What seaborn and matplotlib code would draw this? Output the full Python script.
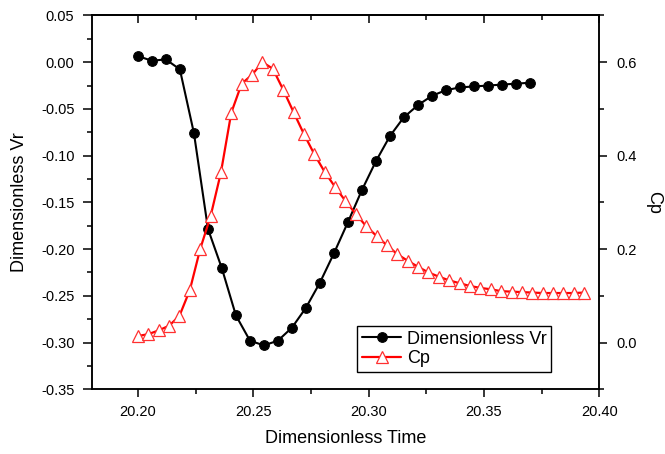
import matplotlib
matplotlib.use("Agg")
import matplotlib.pyplot as plt
from matplotlib.ticker import MultipleLocator, FormatStrFormatter
import seaborn as sns
import pandas as pd

# ---- data ----
vr_time = [20.2000, 20.2061, 20.2121, 20.2182, 20.2243, 20.2304, 20.2364, 20.2425,
           20.2486, 20.2546, 20.2607, 20.2668, 20.2728, 20.2789, 20.2850, 20.2911,
           20.2971, 20.3032, 20.3093, 20.3153, 20.3214, 20.3275, 20.3335, 20.3396,
           20.3457, 20.3518, 20.3578, 20.3639, 20.3700]
vr_values = [0.0065, 0.0015, 0.003, -0.0077, -0.076, -0.1785, -0.2205, -0.271,
             -0.298, -0.303, -0.298, -0.284, -0.263, -0.236, -0.2045, -0.171,
             -0.137, -0.106, -0.079, -0.059, -0.046, -0.036, -0.030, -0.027,
             -0.026, -0.025, -0.024, -0.023, -0.022]

cp_time = [20.2000, 20.2045, 20.2090, 20.2135, 20.2180, 20.2225, 20.2270, 20.2315,
           20.2360, 20.2405, 20.2450, 20.2495, 20.2540, 20.2585, 20.2630, 20.2675,
           20.2720, 20.2765, 20.2810, 20.2855, 20.2900, 20.2945, 20.2990, 20.3035,
           20.3080, 20.3125, 20.3170, 20.3215, 20.3260, 20.3305, 20.3350, 20.3395,
           20.3440, 20.3485, 20.3530, 20.3575, 20.3620, 20.3665, 20.3710, 20.3755,
           20.3800, 20.3845, 20.3890, 20.3935]
cp_values = [0.014, 0.018, 0.026, 0.036, 0.057, 0.112, 0.200, 0.270, 0.364, 0.492,
             0.554, 0.573, 0.600, 0.586, 0.541, 0.493, 0.446, 0.403, 0.365, 0.333,
             0.303, 0.275, 0.249, 0.228, 0.208, 0.189, 0.175, 0.162, 0.150, 0.141,
             0.133, 0.127, 0.121, 0.117, 0.114, 0.110, 0.109, 0.108, 0.107, 0.106,
             0.106, 0.106, 0.106, 0.107]

x_label = "Dimensionless Time"
y_label_left = "Dimensionless Vr"
y_label_right = "Cp"
series_names = ["Dimensionless Vr", "Cp"]

# ---- style ----
sns.set_style("ticks")
plt.rcParams["font.family"] = ["Liberation Sans", "DejaVu Sans"]
plt.rcParams["axes.linewidth"] = 1.1
for key in ("text.color", "axes.labelcolor", "xtick.color", "ytick.color",
            "axes.edgecolor"):
    plt.rcParams[key] = "black"

df_vr = pd.DataFrame({"t": vr_time, "v": vr_values})
df_cp = pd.DataFrame({"t": cp_time, "v": cp_values})

fig = plt.figure(figsize=(6.65, 4.54), dpi=100)
ax = fig.add_axes([0.138, 0.1425, 0.763, 0.8235])
ax2 = ax.twinx()

sns.lineplot(data=df_vr, x="t", y="v", ax=ax, color="black", marker="o",
             markersize=7, markeredgecolor="black", linewidth=1.5,
             estimator=None, sort=False, label=series_names[0], legend=False)
sns.lineplot(data=df_cp, x="t", y="v", ax=ax2, color="#ff0000", marker="^",
             markersize=9, markerfacecolor="white", markeredgecolor="#ff3030",
             markeredgewidth=0.9, linewidth=1.6,
             estimator=None, sort=False, label=series_names[1], legend=False)

ax.set_xlim(20.18, 20.40)
ax.set_ylim(-0.35, 0.05)
ax2.set_ylim(-0.1, 0.7)

ax.xaxis.set_major_locator(MultipleLocator(0.05))
ax.xaxis.set_minor_locator(MultipleLocator(0.025))
ax.xaxis.set_major_formatter(FormatStrFormatter("%.2f"))
ax.yaxis.set_major_locator(MultipleLocator(0.05))
ax.yaxis.set_minor_locator(MultipleLocator(0.025))
ax.yaxis.set_major_formatter(FormatStrFormatter("%.2f"))
ax2.yaxis.set_major_locator(MultipleLocator(0.2))
ax2.yaxis.set_minor_locator(MultipleLocator(0.1))
ax2.yaxis.set_major_formatter(FormatStrFormatter("%.1f"))
ax2.set_ylim(-0.1, 0.7)

for a in (ax, ax2):
    for s in a.spines.values():
        s.set_color("black")
        s.set_linewidth(1.1)

ax.tick_params(axis="x", which="both", bottom=True, top=False, direction="out",
               labelsize=10.5, pad=5, colors="black")
ax.tick_params(axis="x", which="major", length=6, width=1.1)
ax.tick_params(axis="x", which="minor", length=3.5, width=1.1)
ax.tick_params(axis="y", which="both", left=True, right=False, direction="out",
               labelsize=10.5, pad=6, colors="black")
ax.tick_params(axis="y", which="major", length=6.5, width=1.1)
ax.tick_params(axis="y", which="minor", length=3.5, width=1.1)
ax2.tick_params(axis="y", which="both", right=True, left=False, direction="out",
                labelsize=10.5, pad=7, colors="black")
ax2.tick_params(axis="y", which="major", length=5.5, width=1.1)
ax2.tick_params(axis="y", which="minor", length=3.5, width=1.1)

# inward ticks on top edge
sec = ax.secondary_xaxis("top")
sec.xaxis.set_major_locator(MultipleLocator(0.05))
sec.xaxis.set_minor_locator(MultipleLocator(0.025))
sec.tick_params(axis="x", which="both", direction="in", labeltop=False,
                width=1.1, colors="black")
sec.tick_params(axis="x", which="major", length=6)
sec.tick_params(axis="x", which="minor", length=3.5)
sec.spines["top"].set_linewidth(1.1)
sec.spines["top"].set_color("black")

ax.set_xlabel(x_label, fontsize=13, labelpad=8, color="black")
ax.set_ylabel(y_label_left, fontsize=13, labelpad=9, color="black")
ax2.set_ylabel(y_label_right, fontsize=13, rotation=270, labelpad=18, color="black")

h1, l1 = ax.get_legend_handles_labels()
h2, l2 = ax2.get_legend_handles_labels()
leg = ax2.legend(h1 + h2, series_names, loc="lower left",
                 bbox_to_anchor=(0.523, 0.047), fontsize=13, frameon=True,
                 fancybox=False, edgecolor="black", framealpha=1,
                 handlelength=2.2, handletextpad=0.3, borderpad=0.25,
                 labelspacing=0.15, borderaxespad=0)
leg.get_frame().set_linewidth(1.0)
for t in leg.get_texts():
    t.set_color("black")

fig.savefig("out.png", dpi=100)
